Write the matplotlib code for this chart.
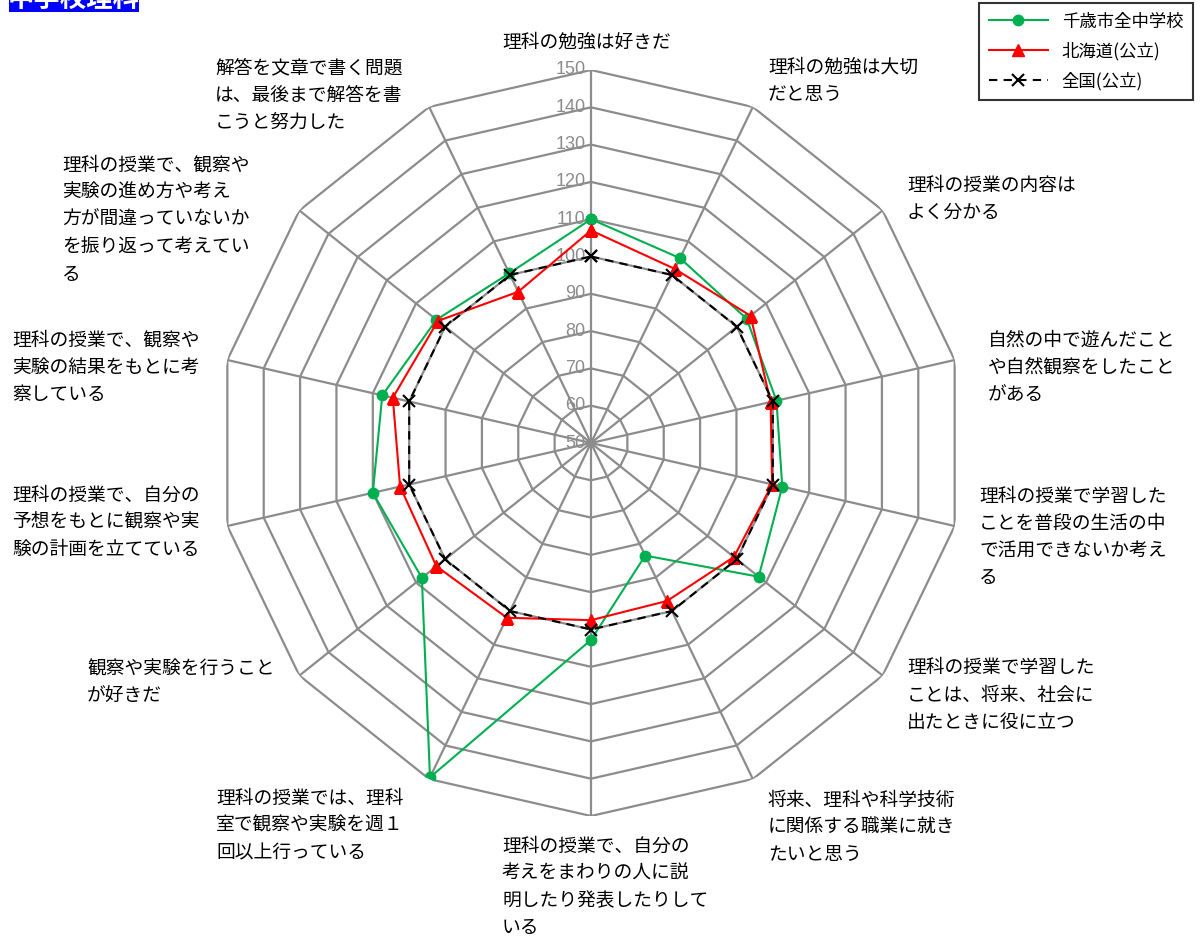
import numpy as np
import matplotlib
matplotlib.use("Agg")
import matplotlib.pyplot as plt
from matplotlib.patches import Rectangle

plt.rcParams['font.family'] = ['Noto Sans CJK JP', 'DejaVu Sans']

# --- data ---
categories = [
    "理科の勉強は好きだ",
    "理科の勉強は大切\nだと思う",
    "理科の授業の内容は\nよく分かる",
    "自然の中で遊んだこと\nや自然観察をしたこと\nがある",
    "理科の授業で学習した\nことを普段の生活の中\nで活用できないか考え\nる",
    "理科の授業で学習した\nことは、将来、社会に\n出たときに役に立つ",
    "将来、理科や科学技術\nに関係する職業に就き\nたいと思う",
    "理科の授業で、自分の\n考えをまわりの人に説\n明したり発表したりして\nいる",
    "理科の授業では、理科\n室で観察や実験を週１\n回以上行っている",
    "観察や実験を行うこと\nが好きだ",
    "理科の授業で、自分の\n予想をもとに観察や実\n験の計画を立てている",
    "理科の授業で、観察や\n実験の結果をもとに考\n察している",
    "理科の授業で、観察や\n実験の進め方や考え\n方が間違っていないか\nを振り返って考えてい\nる",
    "解答を文章で書く問題\nは、最後まで解答を書\nこうと努力した",
]
chitose = [110, 105, 103.4, 101, 102.6, 107.5, 83.5, 102.8, 149.5, 108, 110, 107.4, 103, 100.5]
hokkaido = [107, 101.8, 104.7, 99.4, 99.8, 99, 97, 97.5, 102, 103, 102.5, 104.5, 102.5, 95]
zenkoku = [100] * 14
series_names = ["千歳市全中学校", "北海道(公立)", "全国(公立)"]
r_ticks = list(range(50, 151, 10))

# label placement in pixels: (left x or center x, first line center y)
label_pos = [(587, 42), (768, 67), (907, 185), (988, 340), (979, 496), (907, 668),
             (768, 800), (502, 846), (216, 798), (87, 669), (12, 495), (12, 340),
             (62, 165), (215, 68)]

W, H = 1200, 938
fig = plt.figure(figsize=(W / 100, H / 100), dpi=100)

cx, cy, R = 591, 443, 373
ax = fig.add_axes([(cx - R) / W, (H - cy - R) / H, 2 * R / W, 2 * R / H], projection='polar')
ax.set_theta_offset(np.pi / 2)
ax.set_theta_direction(-1)
ax.set_ylim(50, 150)
ax.axis('off')

n = len(categories)
theta = np.arange(n) * 2 * np.pi / n
theta_c = np.append(theta, theta[0])

grid_col = '#8c8c8c'
for v in r_ticks[1:]:
    ax.plot(theta_c, [v] * (n + 1), color=grid_col, lw=1.6, zorder=1)
for t in theta:
    ax.plot([t, t], [50, 150], color=grid_col, lw=1.6, zorder=1)
for v in r_ticks:
    ax.annotate(str(v), xy=(0, v), xytext=(-4, 0), textcoords='offset points',
                ha='right', va='center', fontsize=13, color='#8c8c8c',
                family=['Liberation Sans'], zorder=2)

def closed(vals):
    return list(vals) + [vals[0]]

ax.plot(theta_c, closed(chitose), color='#00b050', lw=1.5, marker='o', ms=7.5,
        label=series_names[0], zorder=3)
ax.plot(theta_c, closed(hokkaido), color='#ff0000', lw=1.5, marker='^', ms=8,
        label=series_names[1], zorder=4)
ax.plot(theta_c, closed(zenkoku), color='black', lw=1.5, ls=(0, (4, 3)), marker='x',
        ms=8, mew=1.5, label=series_names[2], zorder=5)

# category labels
line_h = 27.3
for i, (txt, (px, py)) in enumerate(zip(categories, label_pos)):
    for j, line in enumerate(txt.split("\n")):
        fig.text(px / W, 1 - (py + j * line_h) / H, line, fontsize=13.5,
                 ha='center' if i == 0 else 'left', va='center', color='black')

leg = fig.legend(loc='upper right', bbox_to_anchor=(1193 / W, 1 - 3 / H),
                 fontsize=12.5, frameon=True, fancybox=False, edgecolor='black',
                 handlelength=3.4, labelspacing=0.65, borderaxespad=0,
                 borderpad=0.55, handletextpad=0.8)
leg.get_frame().set_linewidth(1.5)

# cropped title box in the top-left corner
fig.patches.append(Rectangle((9 / W, 1 - 12 / H), 130 / W, 12 / H, transform=fig.transFigure,
                             facecolor='#0000ff', edgecolor='none'))
fig.text(74 / W, 1 + 1 / H, "中学校理科", fontsize=19, color='white', weight='bold',
         ha='center', va='center')

fig.savefig("out.png", dpi=100)
